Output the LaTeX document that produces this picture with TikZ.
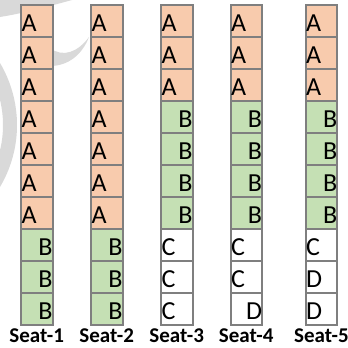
\documentclass[tikz,border=0pt]{standalone}
\usepackage{fontspec}
\setmainfont{Carlito}
\definecolor{orangefill}{HTML}{F8CBAD}
\definecolor{greenfill}{HTML}{C5E0B4}
\definecolor{edgegray}{HTML}{7F7F7F}
\definecolor{wmgray}{HTML}{D9D9D9}
\tikzset{
  cellbox/.style={draw=edgegray, line width=2pt, minimum width=31.5pt, minimum height=32pt,
    inner sep=0pt, outer sep=0pt, anchor=north west, rectangle},
  fillA/.style={fill=orangefill},
  fillB/.style={fill=greenfill},
  fillC/.style={fill=white},
  fillD/.style={fill=white},
  letterwest/.style={anchor=base west, inner sep=0pt, xshift=0.3pt, yshift=5.5pt,
    font=\fontsize{26}{26}\selectfont},
  lettereast/.style={anchor=base east, inner sep=0pt, xshift=0.3pt, yshift=5.5pt,
    font=\fontsize{26}{26}\selectfont},
  seatlabel/.style={anchor=base, inner sep=0pt, font=\fontsize{21}{21}\selectfont\bfseries},
  wm/.style={fill=wmgray, draw=none}
}
\begin{document}
\begin{tikzpicture}[x=1pt, y=-1pt]
\useasboundingbox (0,0) rectangle (348,348);
\begin{scope}
  \clip (0,0) rectangle (348,348);
  \draw[draw=wmgray, line width=14pt] (-104.6,125) ++(-60:114.6) arc (-60:60:114.6);
  \fill[wm] (0,0) -- (0,17) .. controls (25,13) and (50,6) .. (72,0) -- cycle;
  \fill[wm] (50,48) .. controls (63,58) and (78,52) .. (89,37)
     .. controls (82,55) and (68,66) .. (50,66) -- cycle;
\end{scope}
\foreach \c/\x/\spec in {
  1/21/{A/west,A/west,A/west,A/west,A/west,A/west,A/west,B/east,B/east,B/east},
  2/91/{A/west,A/west,A/west,A/west,A/west,A/west,A/west,B/east,B/east,B/east},
  3/161/{A/west,A/west,A/west,B/east,B/east,B/east,B/east,C/west,C/west,C/west},
  4/230.5/{A/west,A/west,A/west,B/east,B/east,B/east,B/east,C/west,C/west,D/east},
  5/305.7/{A/west,A/west,A/west,B/east,B/east,B/east,B/east,C/west,D/west,D/west}}{
  \node[seatlabel] (seat\c) at ({\x+15.75}, 342.5) {Seat-\c};
  \foreach \t/\al [count=\r] in \spec {
    \node[cellbox, fill\t] (c\c-\r) at (\x, {5+32*(\r-1)}) {};
    \node[letter\al] (t\c-\r) at (c\c-\r.south \al) {\t};
  }
}
\end{tikzpicture}
\end{document}
